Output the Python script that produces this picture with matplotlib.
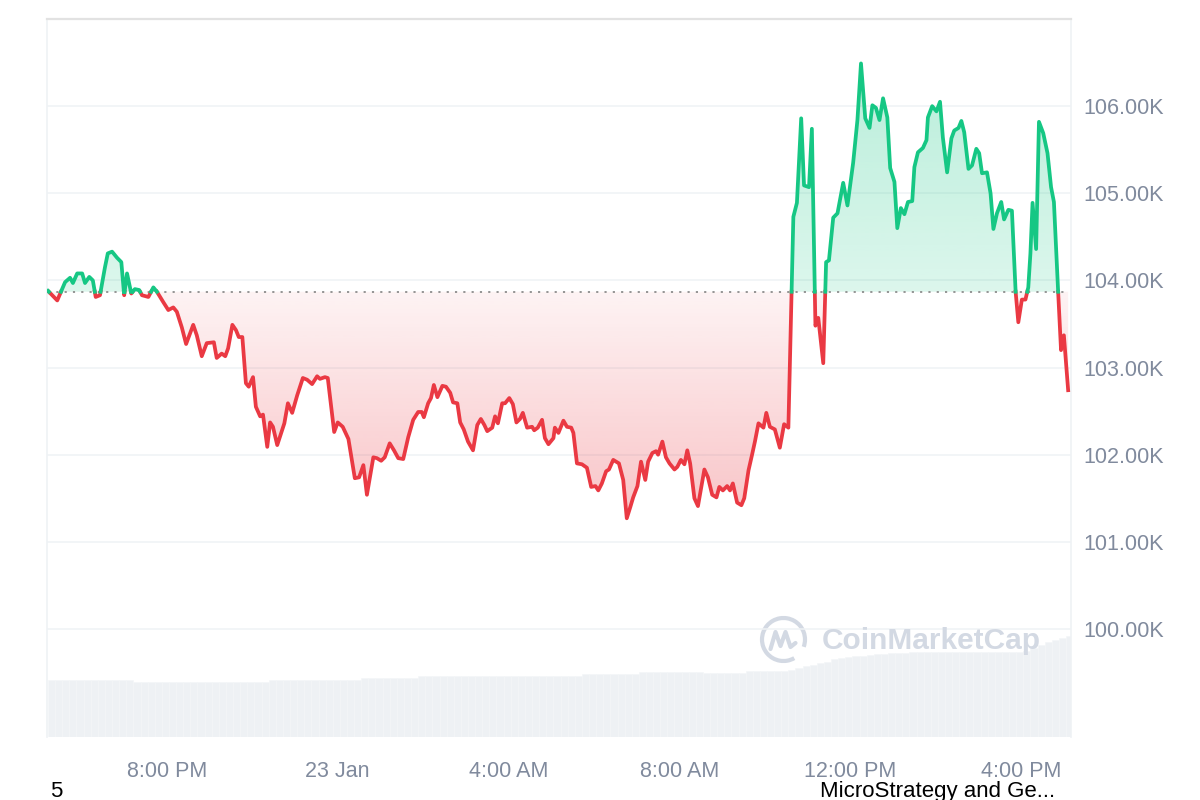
#!/usr/bin/env python3

# plotting tools
import matplotlib
matplotlib.use('Agg')
import matplotlib.pyplot as plt
import matplotlib.dates as mdates
from matplotlib.colors import to_rgb
from matplotlib.patches import Arc
from matplotlib.path import Path
import numpy as np
import pandas as pd

plt.rcParams['font.family'] = ['Liberation Sans', 'DejaVu Sans']

# price (minutes after 22 Jan 17:13, thousands USD)
start = pd.Timestamp('2025-01-22 17:13')
minutes = [
    0, 13, 24, 31, 35, 41, 48, 52, 58, 63,
    67, 73, 80, 84, 90, 97, 103, 107, 111, 117,
    122, 128, 132, 141, 148, 153, 162, 169, 176, 181,
    188, 194, 204, 209, 216, 223, 233, 237, 244, 249,
    253, 259, 264, 268, 273, 278, 282, 288, 292, 298,
    302, 308, 312, 316, 322, 332, 337, 343, 350, 358,
    364, 371, 378, 382, 389, 393, 402, 407, 414, 422,
    431, 437, 443, 448, 457, 462, 468, 473, 480, 486,
    492, 499, 506, 513, 520, 525, 528, 534, 538, 542,
    547, 554, 559, 565, 569, 575, 579, 584, 590, 597,
    603, 608, 613, 617, 624, 628, 632, 638, 642, 648,
    653, 658, 663, 667, 673, 680, 683, 688, 694, 698,
    703, 710, 712, 717, 724, 729, 735, 738, 743, 750,
    757, 763, 769, 773, 778, 784, 788, 794, 798, 802,
    808, 813, 818, 822, 828, 833, 839, 843, 849, 854,
    857, 863, 868, 873, 880, 884, 889, 894, 898, 902,
    908, 913, 922, 927, 933, 939, 943, 948, 954, 958,
    962, 968, 974, 978, 984, 989, 993, 998, 1005, 1009,
    1014, 1021, 1028, 1034, 1040, 1047, 1052, 1058, 1062, 1069,
    1073, 1078, 1082, 1089, 1093, 1097, 1103, 1109, 1117, 1123,
    1131, 1137, 1142, 1148, 1154, 1158, 1163, 1168, 1173, 1179,
    1183, 1189, 1193, 1198, 1203, 1208, 1214, 1217, 1222, 1229,
    1234, 1236, 1242, 1248, 1253, 1257, 1263, 1269, 1273, 1279,
    1283, 1287, 1293, 1298, 1304, 1308, 1312, 1319, 1324, 1328,
    1333, 1339, 1343, 1349, 1354, 1359, 1363, 1368, 1373, 1377,
    1380, 1383, 1388, 1392, 1398, 1404, 1409, 1413, 1419, 1423,
    1427, 1433]
price = [
    103.88, 103.77, 103.98, 104.03, 103.97, 104.08, 104.08, 103.97, 104.04, 104.00,
    103.81, 103.83, 104.15, 104.31, 104.33, 104.26, 104.21, 103.83, 104.08, 103.85,
    103.90, 103.89, 103.83, 103.81, 103.92, 103.87, 103.75, 103.66, 103.69, 103.64,
    103.46, 103.27, 103.49, 103.37, 103.13, 103.28, 103.29, 103.11, 103.16, 103.13,
    103.22, 103.49, 103.43, 103.35, 103.35, 102.82, 102.78, 102.89, 102.55, 102.44,
    102.46, 102.09, 102.37, 102.32, 102.11, 102.36, 102.59, 102.48, 102.68, 102.88,
    102.86, 102.81, 102.90, 102.87, 102.89, 102.88, 102.26, 102.37, 102.32, 102.18,
    101.73, 101.74, 101.88, 101.54, 101.97, 101.96, 101.93, 101.97, 102.13, 102.05,
    101.96, 101.95, 102.20, 102.40, 102.49, 102.49, 102.43, 102.59, 102.65, 102.80,
    102.66, 102.79, 102.78, 102.71, 102.60, 102.59, 102.37, 102.29, 102.15, 102.05,
    102.34, 102.41, 102.34, 102.27, 102.31, 102.44, 102.36, 102.59, 102.59, 102.65,
    102.58, 102.37, 102.41, 102.48, 102.31, 102.32, 102.28, 102.31, 102.40, 102.19,
    102.12, 102.19, 102.31, 102.25, 102.39, 102.32, 102.31, 102.25, 101.90, 101.89,
    101.85, 101.63, 101.64, 101.59, 101.67, 101.81, 101.83, 101.94, 101.92, 101.90,
    101.71, 101.27, 101.40, 101.51, 101.64, 101.92, 101.71, 101.92, 102.02, 102.04,
    102.00, 102.15, 101.97, 101.90, 101.83, 101.86, 101.94, 101.89, 102.05, 101.90,
    101.50, 101.41, 101.83, 101.74, 101.54, 101.51, 101.63, 101.59, 101.64, 101.59,
    101.67, 101.45, 101.42, 101.50, 101.82, 102.00, 102.15, 102.36, 102.31, 102.48,
    102.32, 102.29, 102.08, 102.35, 102.31, 104.73, 104.89, 105.86, 105.09, 105.07,
    105.74, 103.48, 103.57, 103.05, 104.21, 104.23, 104.72, 104.77, 105.12, 104.86,
    105.35, 105.84, 106.49, 105.86, 105.75, 106.01, 105.98, 105.84, 106.09, 105.87,
    105.29, 105.13, 104.60, 104.83, 104.76, 104.90, 104.91, 105.30, 105.47, 105.52,
    105.61, 105.87, 106.00, 105.94, 106.05, 105.64, 105.24, 105.63, 105.72, 105.75,
    105.83, 105.70, 105.28, 105.32, 105.51, 105.46, 105.23, 105.24, 105.00, 104.59,
    104.77, 104.90, 104.70, 104.81, 104.80, 103.89, 103.52, 103.78, 103.78, 103.92,
    104.31, 104.89, 104.36, 105.82, 105.69, 105.46, 105.07, 104.90, 103.86, 103.20,
    103.37, 102.74]
ref_price = 103.87

# 24h volume, billions USD, one bar every 10 minutes
vol_minutes = np.arange(0, 1440, 10)
volume = [
    41.3, 41.3, 41.3, 41.3, 41.3, 41.3, 41.3, 41.3, 41.3, 41.3, 41.3, 41.3,
    39.8, 39.8, 39.8, 39.8, 39.8, 39.8, 39.8, 39.8, 39.8, 39.8, 39.8, 39.8,
    39.8, 39.8, 39.8, 39.8, 39.8, 39.8, 39.8, 41.3, 41.3, 41.3, 41.3, 41.3,
    41.3, 41.3, 41.3, 41.3, 41.3, 41.3, 41.3, 41.3, 42.7, 42.7, 42.7, 42.7,
    42.7, 42.7, 42.7, 42.7, 44.2, 44.2, 44.2, 44.2, 44.2, 44.2, 44.2, 44.2,
    44.2, 44.2, 44.2, 44.2, 44.2, 44.2, 44.2, 44.2, 44.2, 44.2, 44.2, 44.2,
    44.2, 44.2, 44.2, 45.6, 45.6, 45.6, 45.6, 45.6, 45.6, 45.6, 45.6, 47.1,
    47.1, 47.1, 47.1, 47.1, 47.1, 47.1, 47.1, 47.1, 46.3, 46.3, 46.3, 46.3,
    46.3, 46.3, 47.8, 47.8, 47.8, 47.8, 47.8, 47.8, 48.5, 50.0, 51.5, 52.5,
    53.5, 54.3, 56.5, 57.2, 58.0, 58.5, 59.0, 59.5, 59.8, 60.1, 60.5, 60.8,
    61.0, 61.2, 61.5, 61.5, 61.5, 61.5, 61.5, 61.5, 61.5, 61.5, 61.5, 61.5,
    61.5, 61.5, 61.5, 61.5, 61.5, 62.5, 64.5, 66.5, 69.0, 70.5, 72.0, 73.1]

tick_times = ['2025-01-22 20:00', '2025-01-23 00:00', '2025-01-23 04:00',
              '2025-01-23 08:00', '2025-01-23 12:00', '2025-01-23 16:00']
tick_labels = ['8:00 PM', '23 Jan', '4:00 AM', '8:00 AM', '12:00 PM', '4:00 PM']

GREEN = '#16c784'
RED = '#ea3943'
GREY = '#808a9d'

# insert baseline crossings so the two colours meet exactly
t = np.array(minutes, float)
p = np.array(price, float)
tt, pp = [t[0]], [p[0]]
for i in range(1, len(t)):
    a, b = p[i - 1] - ref_price, p[i] - ref_price
    if a * b < 0:
        f = a / (a - b)
        tt.append(t[i - 1] + f * (t[i] - t[i - 1]))
        pp.append(ref_price)
    tt.append(t[i])
    pp.append(p[i])
tt = np.array(tt)
pp = np.array(pp)
t0 = mdates.date2num(start.to_pydatetime())
xn = t0 + tt / 1440.0

fig = plt.figure(figsize=(12, 8), dpi=100)
ax = fig.add_axes([47 / 1200, 63 / 800, 1024 / 1200, 718 / 800])
ax2 = ax.twinx()
ax.set_zorder(ax2.get_zorder() + 1)
ax.patch.set_visible(False)

# volume bars
ax2.bar(t0 + vol_minutes / 1440.0, volume, width=10 / 1440.0, align='edge',
        color='#eef1f4', edgecolor='#f4f6f8', linewidth=0.4)
ax2.set_ylim(0, 520)
ax2.set_yticks([])
for s in ax2.spines.values():
    s.set_visible(False)


def gradient_fill(mask, color, y0, y1, a0, a1):
    poly = ax.fill_between(xn, pp, ref_price, where=mask, facecolor='none',
                           linewidth=0)
    clip = Path.make_compound_path(*poly.get_paths())
    img = np.zeros((256, 1, 4))
    img[:, :, :3] = to_rgb(color)
    img[:, 0, 3] = np.linspace(a0, a1, 256)
    im = ax.imshow(img, extent=[xn[0], xn[-1], y0, y1], origin='lower',
                   aspect='auto', interpolation='bilinear', zorder=1)
    im.set_clip_path(clip, ax.transData)


gradient_fill(pp >= ref_price, GREEN, ref_price, pp.max(), 0.15, 0.30)
gradient_fill(pp <= ref_price, RED, pp.min(), ref_price, 0.30, 0.06)

green = np.where(pp >= ref_price, pp, np.nan)
red = np.where(pp <= ref_price, pp, np.nan)
ax.plot(xn, red, color=RED, lw=2.7, zorder=3, solid_joinstyle='round')
ax.plot(xn, green, color=GREEN, lw=2.7, zorder=3, solid_joinstyle='round')
ax.plot([xn[0], xn[-1]], [ref_price, ref_price], color='#8d8d8d', lw=1.3,
        linestyle=(0, (1.2, 3.4)), zorder=2)

ax.set_xlim(t0 - 1.4 / 1440, t0 + 1437 / 1440)
ax.set_ylim(98.76, 107.0)
ax.set_yticks([100, 101, 102, 103, 104, 105, 106])
ax.set_yticklabels([f'{v:.2f}K' for v in [100, 101, 102, 103, 104, 105, 106]])
ax.yaxis.tick_right()
ax.grid(axis='y', color='#eff2f5', lw=1.1)
ax.set_axisbelow(True)
ax.set_xticks([mdates.date2num(pd.Timestamp(s).to_pydatetime()) for s in tick_times])
ax.set_xticklabels(tick_labels)
ax.tick_params(axis='x', length=0, pad=17.5, labelsize=15.5, labelcolor=GREY)
ax.tick_params(axis='y', length=0, pad=9, labelsize=15.5, labelcolor=GREY)
ax.spines['bottom'].set_visible(False)
ax.spines['top'].set_color('#e2e2e2')
ax.spines['top'].set_linewidth(1.6)
for side in ['left', 'right']:
    ax.spines[side].set_color('#eff2f5')
    ax.spines[side].set_linewidth(1.2)

# watermark
ov = fig.add_axes([0, 0, 1, 1])
ov.set_xlim(0, 1200)
ov.set_ylim(800, 0)
ov.axis('off')
ov.add_patch(Arc((783.5, 639.5), 43, 43, theta1=60, theta2=20,
                 color='#d3d9e3', lw=3.0))
mx = [770.5, 775.5, 780.5, 785.5, 790.5, 795.5]
my = [649, 632, 646, 632, 647, 643]
ov.plot(mx, my, color='#d3d9e3', lw=3.0, solid_capstyle='round',
        solid_joinstyle='round')
fig.text(822 / 1200, 1 - 641 / 800, 'CoinMarketCap', fontsize=21.5,
         fontweight='bold', color='#d3d9e3', va='center', ha='left')

# cut-off news markers at the bottom
fig.text(50 / 1200, 1 - 797 / 800, '5', fontsize=16, color='black',
         va='baseline', ha='left')
fig.text(820 / 1200, 1 - 797 / 800, 'MicroStrategy and Ge...', fontsize=16,
         color='black', va='baseline', ha='left')

fig.savefig('out.png', dpi=100)
plt.close(fig)
